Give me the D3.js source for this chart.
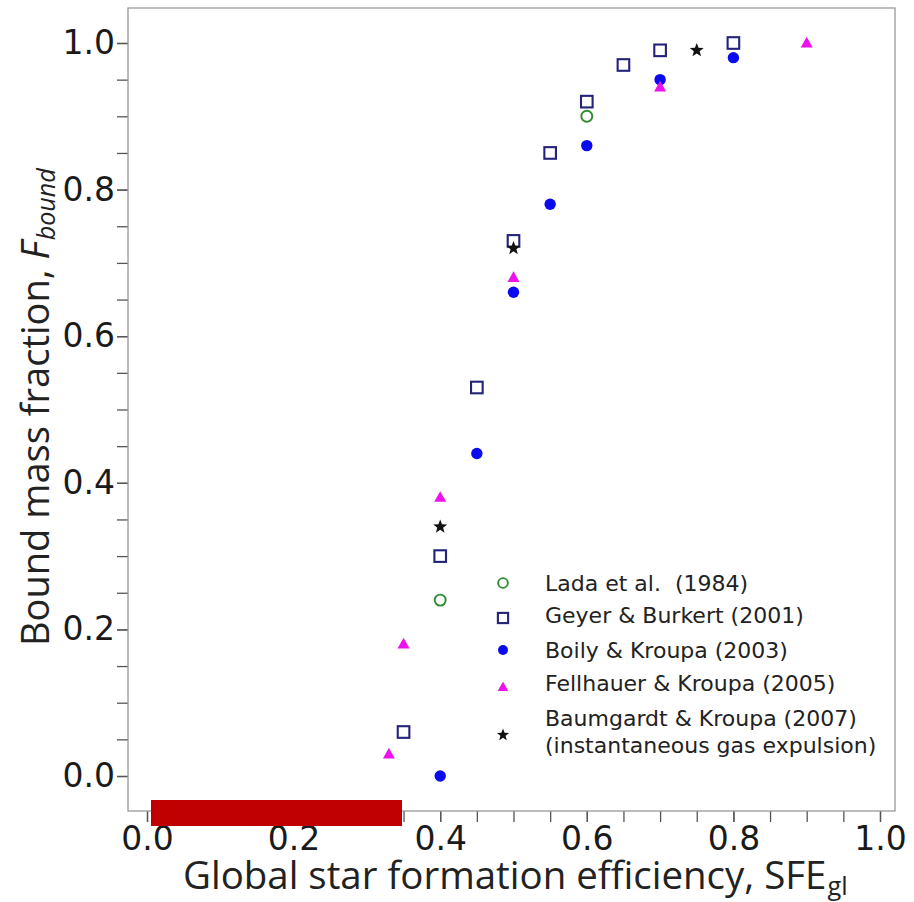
<!DOCTYPE html>
<html><head><meta charset="utf-8">
<script src="https://cdn.jsdelivr.net/npm/d3@7"></script>
<style>body{margin:0;background:#fff}svg{display:block}</style>
</head><body>
<svg id="c" width="914" height="902"></svg>
<script>
const ladaX = [0.4, 0.6];
const ladaY = [0.24, 0.90];
const geyerX = [0.35, 0.4, 0.45, 0.5, 0.55, 0.6, 0.65, 0.7, 0.8];
const geyerY = [0.06, 0.30, 0.53, 0.73, 0.85, 0.92, 0.97, 0.99, 1.00];
const boilyX = [0.4, 0.45, 0.5, 0.55, 0.6, 0.7, 0.8];
const boilyY = [0.00, 0.44, 0.66, 0.78, 0.86, 0.95, 0.98];
const fellX = [0.33, 0.35, 0.4, 0.5, 0.7, 0.9];
const fellY = [0.03, 0.18, 0.38, 0.68, 0.94, 1.00];
const baumX = [0.4, 0.5, 0.75];
const baumY = [0.34, 0.72, 0.99];
const xTicks = [0.0, 0.2, 0.4, 0.6, 0.8, 1.0];
const yTicks = [0.0, 0.2, 0.4, 0.6, 0.8, 1.0];
const legendLabels = ["Lada et al.  (1984)", "Geyer & Burkert (2001)", "Boily & Kroupa (2003)", "Fellhauer & Kroupa (2005)", "Baumgardt & Kroupa (2007)"];
const legendExtra = "(instantaneous gas expulsion)";

const svg = d3.select("#c");
const L = 128, R = 895, T = 8, B = 811;
const x = d3.scaleLinear().domain([(L - 147) / 733, (R - 147) / 733]).range([L, R]);
const y = d3.scaleLinear().domain([(776 - B) / 733, (776 - T) / 733]).range([B, T]);

const tickFont = "DejaVu Sans";
const minor = d3.range(0, 1.0001, 0.05);
svg.append("g").attr("transform", `translate(0,${B})`)
  .call(d3.axisBottom(x).tickValues(minor).tickSize(11).tickFormat(""));
svg.append("g").attr("transform", `translate(0,${B})`)
  .call(d3.axisBottom(x).tickValues(xTicks).tickSize(11).tickPadding(5).tickFormat(d3.format(".1f")));
svg.append("g").attr("transform", `translate(${L},0)`)
  .call(d3.axisLeft(y).tickValues(minor).tickSize(11).tickFormat(""));
svg.append("g").attr("transform", `translate(${L},0)`)
  .call(d3.axisLeft(y).tickValues(yTicks).tickSize(11).tickPadding(2).tickFormat(d3.format(".1f")));
svg.selectAll(".domain").remove();
svg.selectAll(".tick line").attr("stroke", "#555").attr("stroke-width", 1.3);
svg.selectAll(".tick text").attr("font-family", tickFont).attr("font-size", 33).attr("fill", "#1a1a1a");

// frame
svg.append("rect").attr("x", L).attr("y", T).attr("width", R - L).attr("height", B - T)
  .attr("fill", "none").attr("stroke", "#999").attr("stroke-width", 1.3);

function star(r) {
  const pts = [];
  for (let i = 0; i < 10; i++) {
    const a = -Math.PI / 2 + i * Math.PI / 5;
    const rr = i % 2 === 0 ? r : r * 0.42;
    pts.push([rr * Math.cos(a), rr * Math.sin(a)]);
  }
  return "M" + pts.map(p => p.join(",")).join("L") + "Z";
}
function tri(r) {
  return `M0,${-r}L${r * 0.95},${r * 0.7}L${-r * 0.95},${r * 0.7}Z`;
}
const styles = [
  {kind: "circleOpen", color: "#2e8b2e"},
  {kind: "square", color: "#23237a"},
  {kind: "circle", color: "#0a0aee"},
  {kind: "tri", color: "#ee11ee"},
  {kind: "star", color: "#111"}
];
function drawMarker(g, kind, color, cx, cy, s) {
  if (kind === "circleOpen") g.append("circle").attr("cx", cx).attr("cy", cy).attr("r", 5.5 * s).attr("fill", "none").attr("stroke", color).attr("stroke-width", 1.9);
  else if (kind === "square") g.append("rect").attr("x", cx - 5.8 * s).attr("y", cy - 5.8 * s).attr("width", 11.6 * s).attr("height", 11.6 * s).attr("fill", "none").attr("stroke", color).attr("stroke-width", 2.1);
  else if (kind === "circle") g.append("circle").attr("cx", cx).attr("cy", cy).attr("r", 5.7 * s).attr("fill", color);
  else if (kind === "tri") g.append("path").attr("transform", `translate(${cx},${cy})`).attr("d", tri(6.3 * s)).attr("fill", color);
  else if (kind === "star") g.append("path").attr("transform", `translate(${cx},${cy})`).attr("d", star(7.3 * s)).attr("fill", color);
}
const series = [[ladaX, ladaY], [geyerX, geyerY], [boilyX, boilyY], [fellX, fellY], [baumX, baumY]];
const gm = svg.append("g");
series.forEach(([xs, ys], i) => {
  xs.forEach((xv, j) => drawMarker(gm, styles[i].kind, styles[i].color, x(xv), y(ys[j]), 1));
});

// legend
const lg = svg.append("g").attr("font-family", "DejaVu Sans").attr("font-size", 22).attr("fill", "#222");
const rowsY = [583, 615, 650, 683, 718];
const markY = [583, 618, 650, 687, 735];
legendLabels.forEach((t, i) => {
  drawMarker(lg, styles[i].kind, styles[i].color, 503, markY[i], 0.88);
  lg.append("text").attr("x", 545).attr("y", rowsY[i]).attr("dy", "0.35em")
    .attr("xml:space", "preserve").style("white-space", "pre").text(t);
});
lg.append("text").attr("x", 545).attr("y", 745).attr("dy", "0.35em").text(legendExtra);

// axis labels
function fitLabel(g, parts, target) {
  const base = 36;
  function build(fs) {
    g.selectAll("*").remove();
    let pos = 0;
    parts.forEach(p => {
      const t = g.append("text").attr("x", pos).attr("y", p.sub ? fs * 0.15 : 0)
        .attr("font-family", "Open Sans").attr("font-size", p.sub ? fs * 0.66 : fs)
        .attr("font-style", p.italic ? "italic" : "normal").attr("fill", "#222")
        .attr("xml:space", "preserve").style("white-space", "pre").text(p.text);
      pos += t.node().getComputedTextLength() + (p.gap || 0);
    });
    return pos;
  }
  const w = build(base);
  build(base * target / w);
}
const gxl = svg.append("g").attr("transform", "translate(183,889)");
fitLabel(gxl, [{text: "Global star formation efficiency, SFE", gap: 1}, {text: "gl", sub: true}], 665);
const gyl = svg.append("g").attr("transform", "translate(49,646) rotate(-90)");
fitLabel(gyl, [{text: "Bound mass fraction, "}, {text: "F", italic: true, gap: 1}, {text: "bound", italic: true, sub: true}], 478);

// redaction bar
svg.append("rect").attr("x", 151).attr("y", 800).attr("width", 251).attr("height", 26).attr("fill", "#c00000");
</script>
</body></html>
